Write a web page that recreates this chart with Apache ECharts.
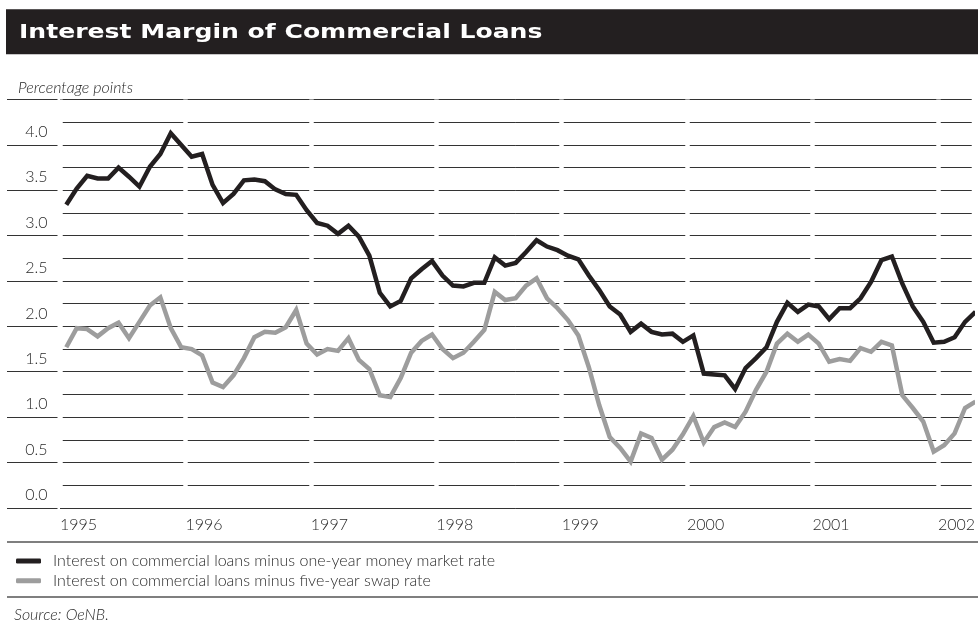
<!DOCTYPE html>
<html><head><meta charset="utf-8">
<script src="https://cdn.jsdelivr.net/npm/echarts@6/dist/echarts.min.js"></script>
<style>html,body{margin:0;padding:0;background:#fff}#c{width:978px;height:628px}</style>
</head><body><div id="c"></div>
<script>
// ---- data ----
const startYear = 1995;
const monthCount = 88; // Jan 1995 .. Apr 2002
const months = [];
for (let i = 0; i < monthCount; i++) {
  months.push((startYear + Math.floor(i / 12)) + '-' + String(i % 12 + 1).padStart(2, '0'));
}
const seriesNames = [
  'Interest on commercial loans minus one-year money market rate',
  'Interest on commercial loans minus five-year swap rate'
];
const moneyMarketMargin = [
  3.34, 3.52, 3.66, 3.63, 3.63, 3.75, 3.65, 3.54, 3.76, 3.90, 4.13, 4.00,
  3.87, 3.90, 3.56, 3.36, 3.46, 3.61, 3.62, 3.60, 3.51, 3.46, 3.45, 3.28,
  3.14, 3.11, 3.02, 3.11, 2.99, 2.78, 2.37, 2.22, 2.28, 2.53, 2.63, 2.72,
  2.56, 2.45, 2.44, 2.48, 2.48, 2.76, 2.67, 2.70, 2.82, 2.95, 2.88, 2.84,
  2.78, 2.74, 2.56, 2.40, 2.22, 2.13, 1.94, 2.03, 1.94, 1.91, 1.92, 1.83,
  1.90, 1.48, 1.47, 1.46, 1.31, 1.54, 1.65, 1.77, 2.05, 2.26, 2.16, 2.24,
  2.22, 2.08, 2.20, 2.20, 2.31, 2.49, 2.73, 2.77, 2.47, 2.22, 2.05, 1.82,
  1.83, 1.88, 2.05, 2.16
];
const swapMargin = [
  1.77, 1.98, 1.97, 1.89, 1.98, 2.04, 1.87, 2.05, 2.23, 2.32, 1.98, 1.77,
  1.75, 1.68, 1.38, 1.33, 1.46, 1.65, 1.88, 1.94, 1.93, 1.99, 2.18, 1.81,
  1.69, 1.75, 1.73, 1.87, 1.63, 1.53, 1.24, 1.22, 1.43, 1.71, 1.84, 1.91,
  1.75, 1.65, 1.71, 1.83, 1.96, 2.38, 2.29, 2.31, 2.45, 2.53, 2.31, 2.20,
  2.07, 1.90, 1.55, 1.13, 0.78, 0.66, 0.51, 0.82, 0.77, 0.53, 0.64, 0.81,
  1.01, 0.72, 0.89, 0.94, 0.89, 1.06, 1.30, 1.50, 1.81, 1.92, 1.83, 1.91,
  1.81, 1.61, 1.64, 1.62, 1.76, 1.72, 1.83, 1.79, 1.24, 1.10, 0.95, 0.62,
  0.69, 0.82, 1.10, 1.17
];
const yearMin = 1995, yearMax = 2002.27;
const monthOffset = 0.6;

// ---- build ----
function xOf(label) {
  const [y, m] = label.split('-').map(Number);
  return y + (m - 1 + monthOffset) / 12;
}
const toPairs = arr => arr.map((v, i) => [xOf(months[i]), v]);

const BLACK = '#231f20', GREY = '#9d9d9d', GRID = '#333';
const LIGHT = { fontFamily: 'Lato', fontWeight: 300, color: '#2a2a2a' };

const chart = echarts.init(document.getElementById('c'), null, { renderer: 'canvas' });
chart.setOption({
  animation: false,
  backgroundColor: '#fff',
  grid: [
    { left: 60, right: 0, top: 99.6, bottom: 120.2 },
    { left: 7, width: 50.5, top: 99.6, bottom: 120.2 }
  ],
  xAxis: [
    {
      gridIndex: 0, type: 'value', min: yearMin, max: yearMax, interval: 1, z: 1,
      axisLine: { show: false }, axisTick: { show: false },
      splitLine: { show: true, showMaxLine: false, lineStyle: { color: '#fff', width: 4.5 } },
      axisLabel: Object.assign({
        fontSize: 16, align: 'left', margin: 9,
        formatter: v => (Math.abs(v - Math.round(v)) < 1e-6 ? String(Math.round(v)) : '')
      }, LIGHT)
    },
    { gridIndex: 1, type: 'value', show: false, min: 0, max: 1 }
  ],
  yAxis: [
    {
      gridIndex: 0, type: 'value', min: 0, max: 4.5, interval: 0.25,
      axisLine: { show: false }, axisTick: { show: false }, axisLabel: { show: false },
      splitLine: { lineStyle: { color: GRID, width: 1 } }
    },
    {
      gridIndex: 1, type: 'value', position: 'right', min: 0, max: 4.5, interval: 0.5,
      axisLine: { show: false }, axisTick: { show: false },
      splitLine: { lineStyle: { color: GRID, width: 1 } },
      axisLabel: Object.assign({
        inside: true, margin: 10, fontSize: 16, verticalAlign: 'bottom',
        lineHeight: 16, padding: [0, 0, 5, 0],
        formatter: v => (v >= 4.5 ? '' : v.toFixed(1))
      }, LIGHT)
    }
  ],
  legend: {
    orient: 'vertical', left: 16, top: 552, padding: 0,
    itemWidth: 25, itemHeight: 5, itemGap: 1.7, icon: 'roundRect',
    data: seriesNames,
    textStyle: Object.assign({ fontSize: 16, lineHeight: 18, padding: [0, 0, 0, 7] }, LIGHT)
  },
  graphic: [
    { type: 'rect', shape: { x: 6, y: 9.3, width: 975, height: 45 }, style: { fill: BLACK } },
    { type: 'text', x: 19, y: 33.5, scaleX: 1.32, style: { text: 'Interest Margin of Commercial Loans', fill: '#fff',
      font: 'bold 19px "DejaVu Sans"', verticalAlign: 'middle' } },
    { type: 'text', x: 18, y: 88, style: { text: 'Percentage points', fill: '#2a2a2a',
      font: 'italic 300 16px Lato', verticalAlign: 'middle' } },
    { type: 'line', shape: { x1: 7, y1: 542, x2: 978, y2: 542 }, style: { stroke: '#555', lineWidth: 1.5 } },
    { type: 'line', shape: { x1: 7, y1: 597, x2: 978, y2: 597 }, style: { stroke: '#555', lineWidth: 1.5 } },
    { type: 'text', x: 14, y: 615, style: { text: 'Source: OeNB.', fill: '#2a2a2a',
      font: 'italic 300 16px Lato', verticalAlign: 'middle' } }
  ],
  series: [
    {
      name: seriesNames[1], type: 'line', xAxisIndex: 0, yAxisIndex: 0, z: 2,
      data: toPairs(swapMargin), symbol: 'none',
      lineStyle: { color: GREY, width: 4.5, join: 'miter' }, itemStyle: { color: GREY }
    },
    {
      name: seriesNames[0], type: 'line', xAxisIndex: 0, yAxisIndex: 0, z: 3,
      data: toPairs(moneyMarketMargin), symbol: 'none',
      lineStyle: { color: BLACK, width: 4.5, join: 'miter' }, itemStyle: { color: BLACK }
    }
  ]
});
</script></body></html>
